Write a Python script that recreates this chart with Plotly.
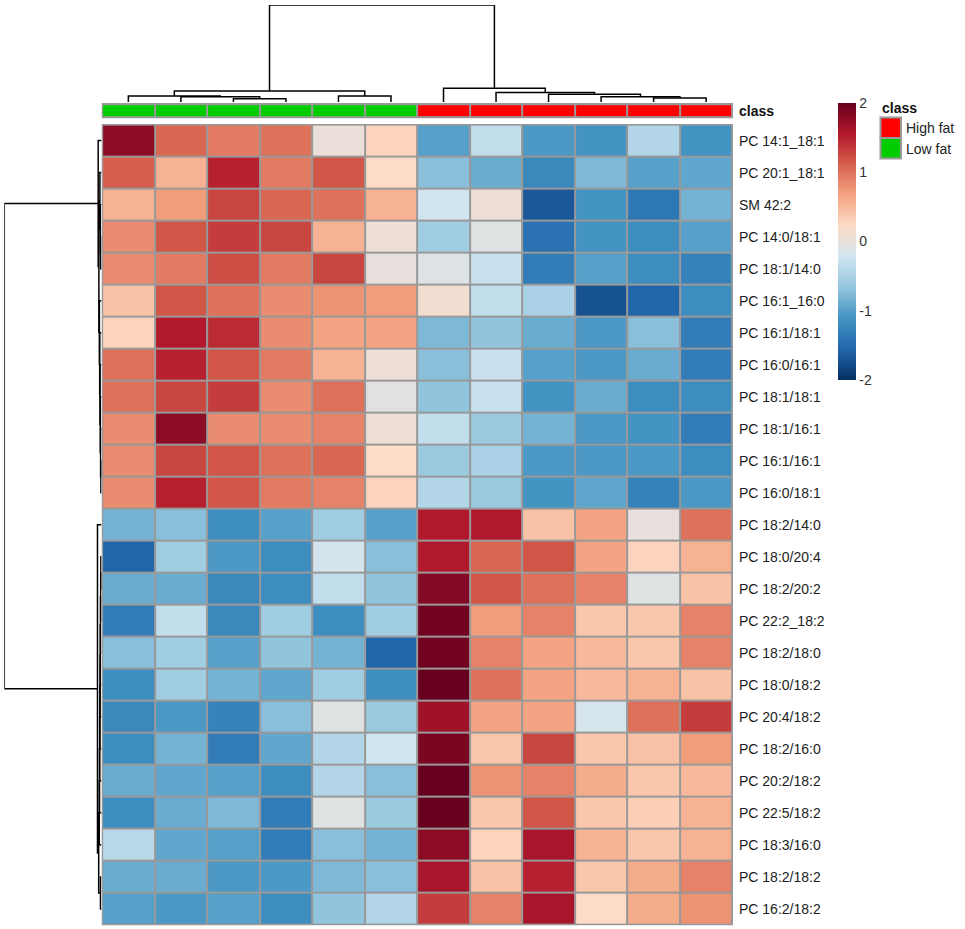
import plotly.graph_objects as go

W, H = 965, 929

# ---------------- data ----------------
row_labels = [
    "PC 14:1_18:1", "PC 20:1_18:1", "SM 42:2", "PC 14:0/18:1", "PC 18:1/14:0",
    "PC 16:1_16:0", "PC 16:1/18:1", "PC 16:0/16:1", "PC 18:1/18:1", "PC 18:1/16:1",
    "PC 16:1/16:1", "PC 16:0/18:1", "PC 18:2/14:0", "PC 18:0/20:4", "PC 18:2/20:2",
    "PC 22:2_18:2", "PC 18:2/18:0", "PC 18:0/18:2", "PC 20:4/18:2", "PC 18:2/16:0",
    "PC 20:2/18:2", "PC 22:5/18:2", "PC 18:3/16:0", "PC 18:2/18:2", "PC 16:2/18:2",
]

col_classes = ["Low fat", "Low fat", "Low fat", "Low fat", "Low fat", "Low fat",
               "High fat", "High fat", "High fat", "High fat", "High fat", "High fat"]

class_names = ["High fat", "Low fat"]
class_colors = ["#FF0000", "#00CD00"]

z_values = [
    [1.78, 1.06, 0.94, 1.00, 0.03, 0.28, -1.00, -0.33, -1.06, -1.11, -0.44, -1.11],
    [1.11, 0.56, 1.50, 0.94, 1.17, 0.22, -0.72, -0.89, -1.22, -0.78, -1.00, -0.94],
    [0.56, 0.72, 1.28, 1.06, 1.00, 0.56, -0.22, 0.06, -1.67, -1.11, -1.39, -0.83],
    [0.83, 1.17, 1.33, 1.28, 0.56, 0.06, -0.56, -0.08, -1.44, -1.11, -1.17, -1.00],
    [0.83, 0.94, 1.22, 0.94, 1.28, 0.00, -0.11, -0.28, -1.33, -1.00, -1.17, -1.28],
    [0.44, 1.17, 1.00, 0.83, 0.78, 0.72, 0.11, -0.33, -0.50, -1.72, -1.56, -1.17],
    [0.28, 1.56, 1.44, 0.83, 0.67, 0.67, -0.78, -0.67, -0.89, -1.06, -0.72, -1.33],
    [1.00, 1.50, 1.17, 0.94, 0.56, 0.06, -0.72, -0.28, -1.00, -1.06, -0.89, -1.33],
    [1.00, 1.28, 1.33, 0.83, 1.00, -0.06, -0.67, -0.28, -1.11, -0.89, -1.17, -1.17],
    [0.83, 1.78, 0.83, 0.83, 0.89, 0.06, -0.33, -0.61, -0.83, -1.06, -1.11, -1.33],
    [0.83, 1.28, 1.17, 1.00, 1.06, 0.22, -0.61, -0.50, -1.06, -1.06, -1.06, -1.17],
    [0.83, 1.50, 1.17, 0.94, 0.89, 0.28, -0.44, -0.61, -1.11, -0.94, -1.28, -1.06],
    [-0.83, -0.72, -1.17, -1.00, -0.56, -1.00, 1.56, 1.56, 0.44, 0.67, 0.00, 1.00],
    [-1.56, -0.56, -1.06, -1.17, -0.19, -0.72, 1.56, 1.06, 1.17, 0.67, 0.28, 0.56],
    [-0.89, -0.89, -1.22, -1.17, -0.33, -0.67, 1.83, 1.17, 1.00, 0.89, -0.08, 0.44],
    [-1.33, -0.33, -1.22, -0.56, -1.17, -0.56, 1.94, 0.72, 0.89, 0.39, 0.39, 0.89],
    [-0.72, -0.56, -1.00, -0.67, -0.83, -1.56, 1.94, 0.89, 0.67, 0.50, 0.39, 0.89],
    [-1.17, -0.56, -0.83, -0.94, -0.56, -1.17, 2.00, 1.00, 0.67, 0.50, 0.56, 0.44],
    [-1.22, -1.06, -1.28, -0.72, -0.08, -0.61, 1.67, 0.67, 0.67, -0.17, 1.00, 1.33],
    [-1.17, -0.83, -1.33, -0.94, -0.44, -0.22, 1.89, 0.39, 1.28, 0.39, 0.44, 0.72],
    [-0.89, -0.94, -1.00, -1.17, -0.44, -0.72, 2.00, 0.78, 0.89, 0.61, 0.39, 0.50],
    [-1.17, -0.89, -0.78, -1.33, -0.08, -0.61, 2.00, 0.39, 1.17, 0.39, 0.33, 0.56],
    [-0.39, -0.94, -1.00, -1.33, -0.72, -0.83, 1.78, 0.28, 1.61, 0.56, 0.39, 0.56],
    [-0.89, -0.89, -1.06, -1.06, -0.78, -0.72, 1.61, 0.44, 1.50, 0.39, 0.61, 0.89],
    [-1.00, -1.06, -1.00, -1.17, -0.67, -0.44, 1.33, 0.89, 1.61, 0.22, 0.61, 0.78],
]

colorbar_ticks = [-2, -1, 0, 1, 2]
colorbar_ticktext = ["-2", "-1", "0", "1", "2"]

# dendrogram linkages: (child_a, child_b, height); leaves 0..n-1, merge k -> id n+k
col_merges = [
    (2, 3, 3.3), (1, 12, 5.3), (0, 13, 6.0), (4, 5, 6.0), (14, 15, 11.0),
    (10, 11, 4.0), (9, 17, 5.3), (8, 18, 7.7), (7, 19, 9.3), (6, 20, 13.7),
    (16, 21, 96.0),
]
row_merges = [
    (3, 4, 0.8), (2, 25, 1.2), (1, 26, 1.6), (10, 11, 0.6), (9, 28, 0.9),
    (8, 29, 1.2), (7, 30, 1.5), (6, 31, 1.8), (5, 32, 2.1), (27, 33, 2.6),
    (0, 34, 3.3), (13, 14, 0.6), (36, 15, 0.8), (37, 16, 1.0), (38, 17, 1.2),
    (39, 18, 1.4), (40, 19, 1.6), (41, 20, 1.8), (42, 21, 2.0), (43, 22, 2.2),
    (23, 24, 1.0), (44, 45, 2.8), (12, 46, 4.0), (35, 47, 96.7),
]

# ---------------- helpers ----------------
def fx(p):
    return p / W


def fy(p):
    return 1 - p / H


def dendro(merges, n):
    pos = {i: float(i) for i in range(n)}
    hgt = {i: 0.0 for i in range(n)}
    ps, hs = [], []
    for k, (a, b, h) in enumerate(merges):
        pa, pb = pos[a], pos[b]
        ps += [pa, pa, pb, pb, None]
        hs += [hgt[a], h, h, hgt[b], None]
        pos[n + k] = (pa + pb) / 2
        hgt[n + k] = h
    return ps, hs


ncol = len(col_classes)
nrow = len(row_labels)
GRID = "#999999"
FONT = "Liberation Sans, Arial, sans-serif"

rdbu = ["#053061", "#2166AC", "#4393C3", "#92C5DE", "#D1E5F0",
        "#FDDBC7", "#F4A582", "#D6604D", "#B2182B", "#67001F"]
colorscale = [[i / (len(rdbu) - 1), c] for i, c in enumerate(rdbu)]

# pixel geometry
HX0, HX1 = 101.5, 733.0
HY0, HY1 = 124.0, 925.5
BY0, BY1 = 103.0, 118.5
dx = 1.0 / ((HX1 - HX0) / ncol)
dy = 1.0 / ((HY1 - HY0) / nrow)

fig = go.Figure()

# main heatmap
fig.add_trace(go.Heatmap(
    z=z_values, x=list(range(ncol)), y=list(range(nrow)),
    colorscale=colorscale, zmin=-2, zmax=2, xgap=2, ygap=2,
    xaxis="x", yaxis="y", hoverinfo="z",
    colorbar=dict(
        x=fx(838), xanchor="left", y=fy(103), yanchor="top",
        len=277 / H, lenmode="fraction", thickness=18, thicknessmode="pixels",
        xpad=0, ypad=0, outlinewidth=0, tickvals=colorbar_ticks,
        ticktext=colorbar_ticktext, ticks="",
        tickfont=dict(size=14, color="#333333", family=FONT),
    ),
))

# class annotation bar
codes = [class_names.index(c) for c in col_classes]
fig.add_trace(go.Heatmap(
    z=[codes], x=list(range(ncol)), y=[0],
    colorscale=[[0, class_colors[0]], [0.5, class_colors[0]],
                [0.5, class_colors[1]], [1, class_colors[1]]],
    zmin=0, zmax=1, xgap=2, ygap=2, showscale=False,
    xaxis="x3", yaxis="y2", hoverinfo="skip",
))

# column dendrogram
cp, ch = dendro(col_merges, ncol)
fig.add_trace(go.Scatter(x=cp, y=ch, mode="lines", xaxis="x4", yaxis="y3",
                         line=dict(color="black", width=1.5), cliponaxis=False,
                         hoverinfo="skip", showlegend=False))

# row dendrogram
rp, rh = dendro(row_merges, nrow)
fig.add_trace(go.Scatter(x=rh, y=rp, mode="lines", xaxis="x2", yaxis="y4",
                         line=dict(color="black", width=1.5), cliponaxis=False,
                         hoverinfo="skip", showlegend=False))

xr = [-0.5 - dx * 0.6, ncol - 0.5 + dx * 0.6]
yr = [nrow - 0.5 + dy * 0.6, -0.5 - dy * 0.6]
hidden = dict(visible=False, showgrid=False, zeroline=False)

fig.update_layout(
    width=W, height=H, margin=dict(l=0, r=0, t=0, b=0), autosize=False,
    paper_bgcolor="white", plot_bgcolor="white", showlegend=False,
    font=dict(family=FONT, size=14, color="#222222"),
    xaxis=dict(domain=[fx(HX0), fx(HX1)], range=xr, anchor="y", **hidden),
    yaxis=dict(domain=[fy(HY1), fy(HY0)], range=yr, anchor="x", side="right",
               tickvals=list(range(nrow)), ticktext=row_labels, ticks="",
               showgrid=False, zeroline=False, showline=False,
               ticklabelstandoff=5, tickfont=dict(size=14, color="#222222")),
    xaxis3=dict(domain=[fx(HX0), fx(HX1)], range=xr, anchor="y2", **hidden),
    yaxis2=dict(domain=[fy(BY1), fy(BY0)], range=[0.5 + 0.09, -0.5 - 0.09],
                anchor="x3", side="right", tickvals=[0], ticktext=["<b>class</b>"],
                ticks="", showgrid=False, zeroline=False, showline=False,
                ticklabelstandoff=5, tickfont=dict(size=14, color="#111111")),
    xaxis4=dict(domain=[fx(HX0), fx(HX1)], range=xr, anchor="y3", **hidden),
    yaxis3=dict(domain=[fy(102), fy(5)], range=[0, 96], anchor="x4", **hidden),
    xaxis2=dict(domain=[fx(4.3), fx(HX0)], range=[96.7, 0], anchor="y4", **hidden),
    yaxis4=dict(domain=[fy(HY1), fy(HY0)], range=yr, anchor="x2", **hidden),
)

shapes = [
    dict(type="rect", xref="x", yref="y", x0=xr[0], x1=xr[1], y0=yr[0], y1=yr[1],
         fillcolor=GRID, line=dict(width=0), layer="below"),
    dict(type="rect", xref="x3", yref="y2", x0=xr[0], x1=xr[1], y0=0.59, y1=-0.59,
         fillcolor=GRID, line=dict(width=0), layer="below"),
]
annotations = [
    dict(text="<b>class</b>", x=fx(880), y=fy(108), xref="paper", yref="paper",
         xanchor="left", yanchor="middle", showarrow=False,
         font=dict(size=14, color="#111111")),
]
for i, (name, col) in enumerate(zip(class_names, class_colors)):
    top = 117.5 + i * 20.5
    shapes.append(dict(type="rect", xref="paper", yref="paper",
                       x0=fx(880.5), x1=fx(901), y0=fy(top + 20.5), y1=fy(top),
                       fillcolor=col, line=dict(color=GRID, width=2)))
    annotations.append(dict(text=name, x=fx(904), y=fy(top + 10.5), xref="paper",
                            yref="paper", xanchor="left", yanchor="middle",
                            showarrow=False, font=dict(size=14, color="#222222")))

fig.update_layout(shapes=shapes, annotations=annotations)

fig.write_html("out.html",
               config={"displayModeBar": False},
               post_script="document.body.style.margin='0px';"
                           "document.body.style.padding='0px';")
